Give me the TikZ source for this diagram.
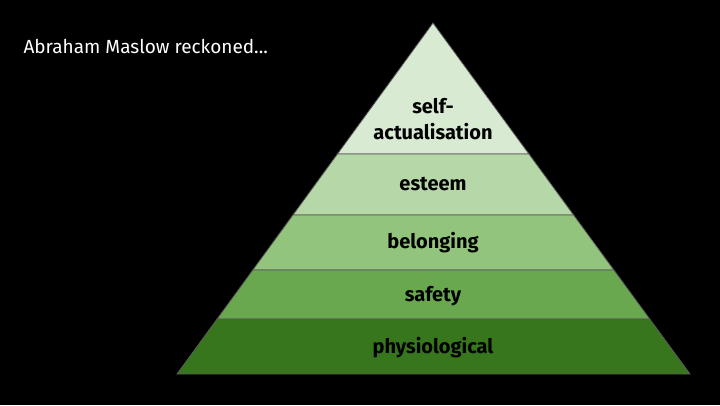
\documentclass[tikz,border=0pt]{standalone}
\usepackage{fontspec}
\setmainfont{Fira Sans}
\usetikzlibrary{calc}
\definecolor{tierA}{HTML}{D9EAD3}
\definecolor{tierB}{HTML}{B6D7A8}
\definecolor{tierC}{HTML}{93C47D}
\definecolor{tierD}{HTML}{6AA84F}
\definecolor{tierE}{HTML}{38761D}
\begin{document}
\begin{tikzpicture}[x=1pt,y=-1pt,
  tier/.style={draw=gray!70!black,line width=0.8pt},
  tierlabel/.style={font=\bfseries\fontsize{20}{26}\selectfont,align=center,text=black}]
\fill[black] (0,0) rectangle (720,405);
\useasboundingbox (0,0) rectangle (720,405);
\coordinate (apex) at (433,23);
\coordinate (bl) at (177,374);
\coordinate (br) at (690,374);
% layers from top to bottom: start fraction, end fraction, colour
\foreach \s/\e/\c in {0/0.3732/tierA,0.3732/0.5470/tierB,0.5470/0.7037/tierC,0.7037/0.8433/tierD,0.8433/1/tierE}
{
  \filldraw[tier,fill=\c] ($(apex)!\s!(bl)$) -- ($(apex)!\e!(bl)$) -- ($(apex)!\e!(br)$) -- ($(apex)!\s!(br)$) -- cycle;
}
\node[tierlabel] (selfact) at (433,119) {self-\\actualisation};
\node[tierlabel] (esteem) at (433,184) {esteem};
\node[tierlabel] (belong) at (433,243) {belonging};
\node[tierlabel] (safety) at (433,296) {safety};
\node[tierlabel] (physio) at (433,348) {physiological};
\node[anchor=west,text=white,font=\fontsize{19}{22}\selectfont] (title) at (20,46) {Abraham Maslow reckoned...};
\end{tikzpicture}
\end{document}
